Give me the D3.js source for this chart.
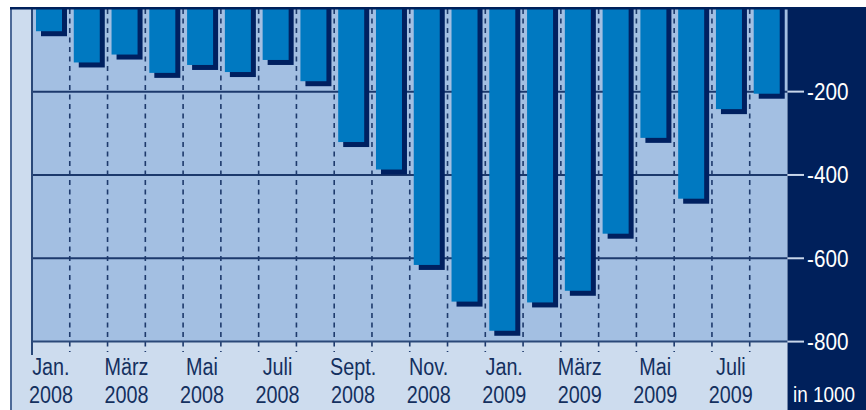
<!DOCTYPE html>
<html>
<head>
<meta charset="utf-8">
<script src="https://cdn.jsdelivr.net/npm/d3@7"></script>
<style>
  body { margin: 0; background: #fff; }
  svg text { font-family: "Liberation Sans", Arial, sans-serif; }
</style>
</head>
<body>
<div id="chart"></div>
<script>
// Monthly values, Jan 2008 - Aug 2009 (in 1000)
var months = ['Jan 08', 'Feb 08', 'Mar 08', 'Apr 08', 'May 08', 'Jun 08', 'Jul 08', 'Aug 08',
  'Sep 08', 'Oct 08', 'Nov 08', 'Dec 08', 'Jan 09', 'Feb 09', 'Mar 09', 'Apr 09',
  'May 09', 'Jun 09', 'Jul 09', 'Aug 09'];
var values = [-55, -130, -111, -155, -136, -153, -124, -175, -321, -387,
  -616, -704, -774, -706, -678, -541, -311, -457, -242, -205];
var labelMonths = ['Jan.', 'März', 'Mai', 'Juli', 'Sept.', 'Nov.', 'Jan.', 'März', 'Mai', 'Juli'];
var labelYears = ['2008', '2008', '2008', '2008', '2008', '2008', '2009', '2009', '2009', '2009'];
var yTicks = [-200, -400, -600, -800];

// Create SVG Element
var chartWidth = 866;
var chartHeight = 410;
var svg = d3.select('#chart')
    .append('svg')
    .attr('width', chartWidth)
    .attr('height', chartHeight);

var plotLeft = 32;
var plotRight = 787.5;
var plotTop = 8.3;
var plotBottom = 341.6;
var squeeze = 0.86; // condensed look

// Create Scale
var scaleX = d3.scaleBand()
    .domain(d3.range(months.length))
    .range([plotLeft, plotRight]);

var scaleY = d3.scaleLinear()
    .domain([0, -800])
    .range([plotTop, plotBottom]);

var step = scaleX.step();

// Backgrounds
svg.append('rect')
    .attr('x', 10).attr('y', 8)
    .attr('width', plotRight - 10).attr('height', chartHeight - 8)
    .attr('fill', '#cddcee');
svg.append('rect')
    .attr('x', plotLeft).attr('y', 8)
    .attr('width', plotRight - plotLeft).attr('height', plotBottom - 8)
    .attr('fill', '#a3bfe2');
svg.append('rect')
    .attr('x', plotRight).attr('y', 8)
    .attr('width', chartWidth - plotRight).attr('height', chartHeight - 8)
    .attr('fill', '#00205b');
svg.append('rect')
    .attr('x', 10).attr('y', 8)
    .attr('width', 2).attr('height', chartHeight - 8)
    .attr('fill', '#4d6a98');

// Gridlines
svg.selectAll('line.grid')
    .data(yTicks.slice(0, 3))
    .enter()
    .append('line')
    .attr('class', 'grid')
    .attr('x1', plotLeft).attr('x2', plotRight)
    .attr('y1', function(d) { return scaleY(d); })
    .attr('y2', function(d) { return scaleY(d); })
    .attr('stroke', '#1c396c')
    .attr('stroke-width', 2);

// Dashed separators
svg.selectAll('line.sep')
    .data(d3.range(1, months.length))
    .enter()
    .append('line')
    .attr('class', 'sep')
    .attr('x1', function(d) { return scaleX(d); })
    .attr('x2', function(d) { return scaleX(d); })
    .attr('y1', 9).attr('y2', 352)
    .attr('stroke', '#1e3a6c')
    .attr('stroke-width', 1.6)
    .attr('stroke-dasharray', '5,4.5');

// Bars with shadow
svg.selectAll('rect.shadow')
    .data(values)
    .enter()
    .append('rect')
    .attr('class', 'shadow')
    .attr('x', function(d, i) { return scaleX(i) + 9; })
    .attr('y', scaleY(0))
    .attr('width', 26)
    .attr('height', function(d) { return scaleY(d) - scaleY(0) + 5; })
    .attr('fill', '#002060');

svg.selectAll('rect.bar')
    .data(values)
    .enter()
    .append('rect')
    .attr('class', 'bar')
    .attr('x', function(d, i) { return scaleX(i) + 4; })
    .attr('y', scaleY(0))
    .attr('width', 26)
    .attr('height', function(d) { return scaleY(d) - scaleY(0); })
    .attr('fill', '#0079c1');

// Axis lines
svg.append('line')
    .attr('x1', plotLeft).attr('x2', plotRight)
    .attr('y1', plotBottom).attr('y2', plotBottom)
    .attr('stroke', '#2a4878')
    .attr('stroke-width', 2);
svg.append('line')
    .attr('x1', plotLeft).attr('x2', plotLeft)
    .attr('y1', 8).attr('y2', 355)
    .attr('stroke', '#2a4878')
    .attr('stroke-width', 2);
svg.append('rect')
    .attr('x', 10).attr('y', 7)
    .attr('width', chartWidth - 10).attr('height', 2.5)
    .attr('fill', '#00205b');

// Y ticks on the right panel
svg.selectAll('line.ytick')
    .data(yTicks)
    .enter()
    .append('line')
    .attr('class', 'ytick')
    .attr('x1', plotRight).attr('x2', 804)
    .attr('y1', function(d) { return scaleY(d); })
    .attr('y2', function(d) { return scaleY(d); })
    .attr('stroke', '#c8d6ea')
    .attr('stroke-width', 2);

svg.selectAll('text.ylab')
    .data(yTicks)
    .enter()
    .append('text')
    .attr('class', 'ylab')
    .text(function(d) { return d; })
    .attr('transform', function(d) {
      return 'translate(807,' + (scaleY(d) + 8.5) + ') scale(0.9,1)';
    })
    .attr('font-size', 23)
    .attr('fill', '#fff');

svg.append('text')
    .text('in 1000')
    .attr('transform', 'translate(793,402) scale(' + squeeze + ',1)')
    .attr('font-size', 22)
    .attr('fill', '#fff');

// X labels
svg.selectAll('text.xmonth')
    .data(labelMonths)
    .enter()
    .append('text')
    .attr('class', 'xmonth')
    .text(function(d) { return d; })
    .attr('transform', function(d, i) {
      return 'translate(' + (scaleX(i * 2) + step / 2) + ',375) scale(' + squeeze + ',1)';
    })
    .attr('font-size', 23)
    .attr('fill', '#14305f')
    .attr('text-anchor', 'middle');

svg.selectAll('text.xyear')
    .data(labelYears)
    .enter()
    .append('text')
    .attr('class', 'xyear')
    .text(function(d) { return d; })
    .attr('transform', function(d, i) {
      return 'translate(' + (scaleX(i * 2) + step / 2) + ',403) scale(' + squeeze + ',1)';
    })
    .attr('font-size', 23)
    .attr('fill', '#14305f')
    .attr('text-anchor', 'middle');
</script>
</body>
</html>
